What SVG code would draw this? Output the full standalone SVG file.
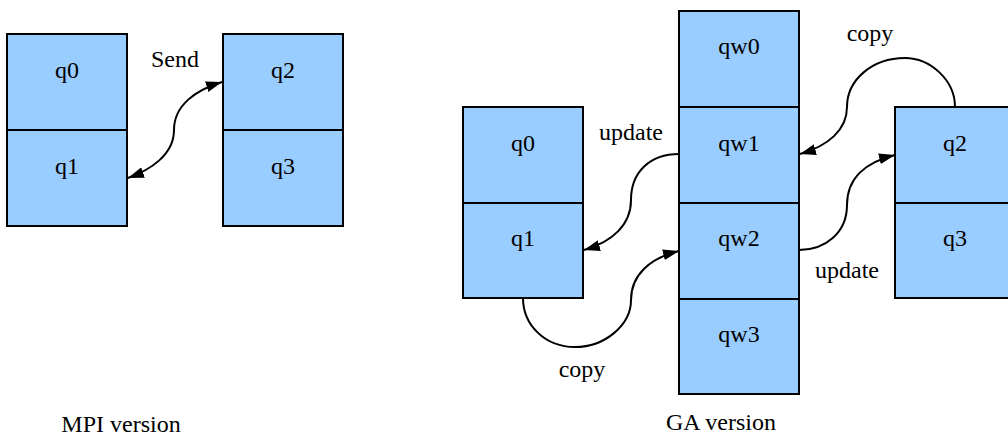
<svg xmlns="http://www.w3.org/2000/svg" width="1008" height="436" viewBox="0 0 1008 436">
  <style>
    .cell { fill: #99ccff; stroke: #000; stroke-width: 2; }
    .lbl { font-family: "Liberation Serif", "Times New Roman", serif; font-size: 24px; fill: #000; text-anchor: middle; }
    .edge { fill: none; stroke: #000; stroke-width: 2; }
  </style>
  <defs>
    <marker id="arrow" viewBox="0 0 16 11" refX="16" refY="5.5" markerWidth="8" markerHeight="5.5" markerUnits="strokeWidth" orient="auto-start-reverse">
      <path d="M0,0 L16,5.5 L0,11 z" fill="#000"/>
    </marker>
  </defs>
  <rect width="1008" height="436" fill="#fff"/>

  <!-- MPI version: two processes holding two blocks each -->
  <g id="mpi-left">
    <rect class="cell" x="7" y="34" width="120" height="96"/>
    <rect class="cell" x="7" y="130" width="120" height="96"/>
    <text class="lbl" x="67" y="78">q0</text>
    <text class="lbl" x="67" y="174">q1</text>
  </g>
  <g id="mpi-right">
    <rect class="cell" x="223" y="34" width="120" height="96"/>
    <rect class="cell" x="223" y="130" width="120" height="96"/>
    <text class="lbl" x="283" y="78">q2</text>
    <text class="lbl" x="283" y="174">q3</text>
  </g>

  <!-- GA version: local blocks plus the shared work array -->
  <g id="ga-left">
    <rect class="cell" x="463" y="107" width="120" height="96"/>
    <rect class="cell" x="463" y="203" width="120" height="95"/>
    <text class="lbl" x="523" y="151">q0</text>
    <text class="lbl" x="523" y="246">q1</text>
  </g>
  <g id="ga-work">
    <rect class="cell" x="679" y="11" width="120" height="96"/>
    <rect class="cell" x="679" y="107" width="120" height="96"/>
    <rect class="cell" x="679" y="203" width="120" height="96"/>
    <rect class="cell" x="679" y="299" width="120" height="95"/>
    <text class="lbl" x="739" y="54">qw0</text>
    <text class="lbl" x="739" y="151">qw1</text>
    <text class="lbl" x="739" y="246">qw2</text>
    <text class="lbl" x="739" y="342">qw3</text>
  </g>
  <g id="ga-right">
    <rect class="cell" x="895" y="107" width="120" height="96"/>
    <rect class="cell" x="895" y="203" width="120" height="95"/>
    <text class="lbl" x="955" y="151">q2</text>
    <text class="lbl" x="955" y="246">q3</text>
  </g>

  <!-- connectors -->
  <g id="connectors">
    <path class="edge" d="M128,178 C150,170 174,155 174,130 C174,105 196,90 222,82" marker-start="url(#arrow)" marker-end="url(#arrow)"/>
    <path class="edge" d="M679,154 C650,154 631,172 631,200 C631,225 612,242 584,250" marker-end="url(#arrow)"/>
    <path class="edge" d="M523,298 C523,325 545,347 575,347 C605,347 631,325 631,300 C631,275 650,258 679,251" marker-end="url(#arrow)"/>
    <path class="edge" d="M955,107 C955,80 930,58 905,58 C872,58 847,80 847,107 C847,130 828,146 800,154" marker-end="url(#arrow)"/>
    <path class="edge" d="M799,250 C825,250 847,233 847,205 C847,178 866,162 895,155" marker-end="url(#arrow)"/>
  </g>

  <!-- edge labels and captions -->
  <g id="labels">
    <text class="lbl" x="175" y="67">Send</text>
    <text class="lbl" x="631" y="140">update</text>
    <text class="lbl" x="582" y="377">copy</text>
    <text class="lbl" x="870" y="41">copy</text>
    <text class="lbl" x="847" y="278">update</text>
    <text class="lbl" x="121" y="432">MPI version</text>
    <text class="lbl" x="721" y="430">GA version</text>
  </g>
</svg>
